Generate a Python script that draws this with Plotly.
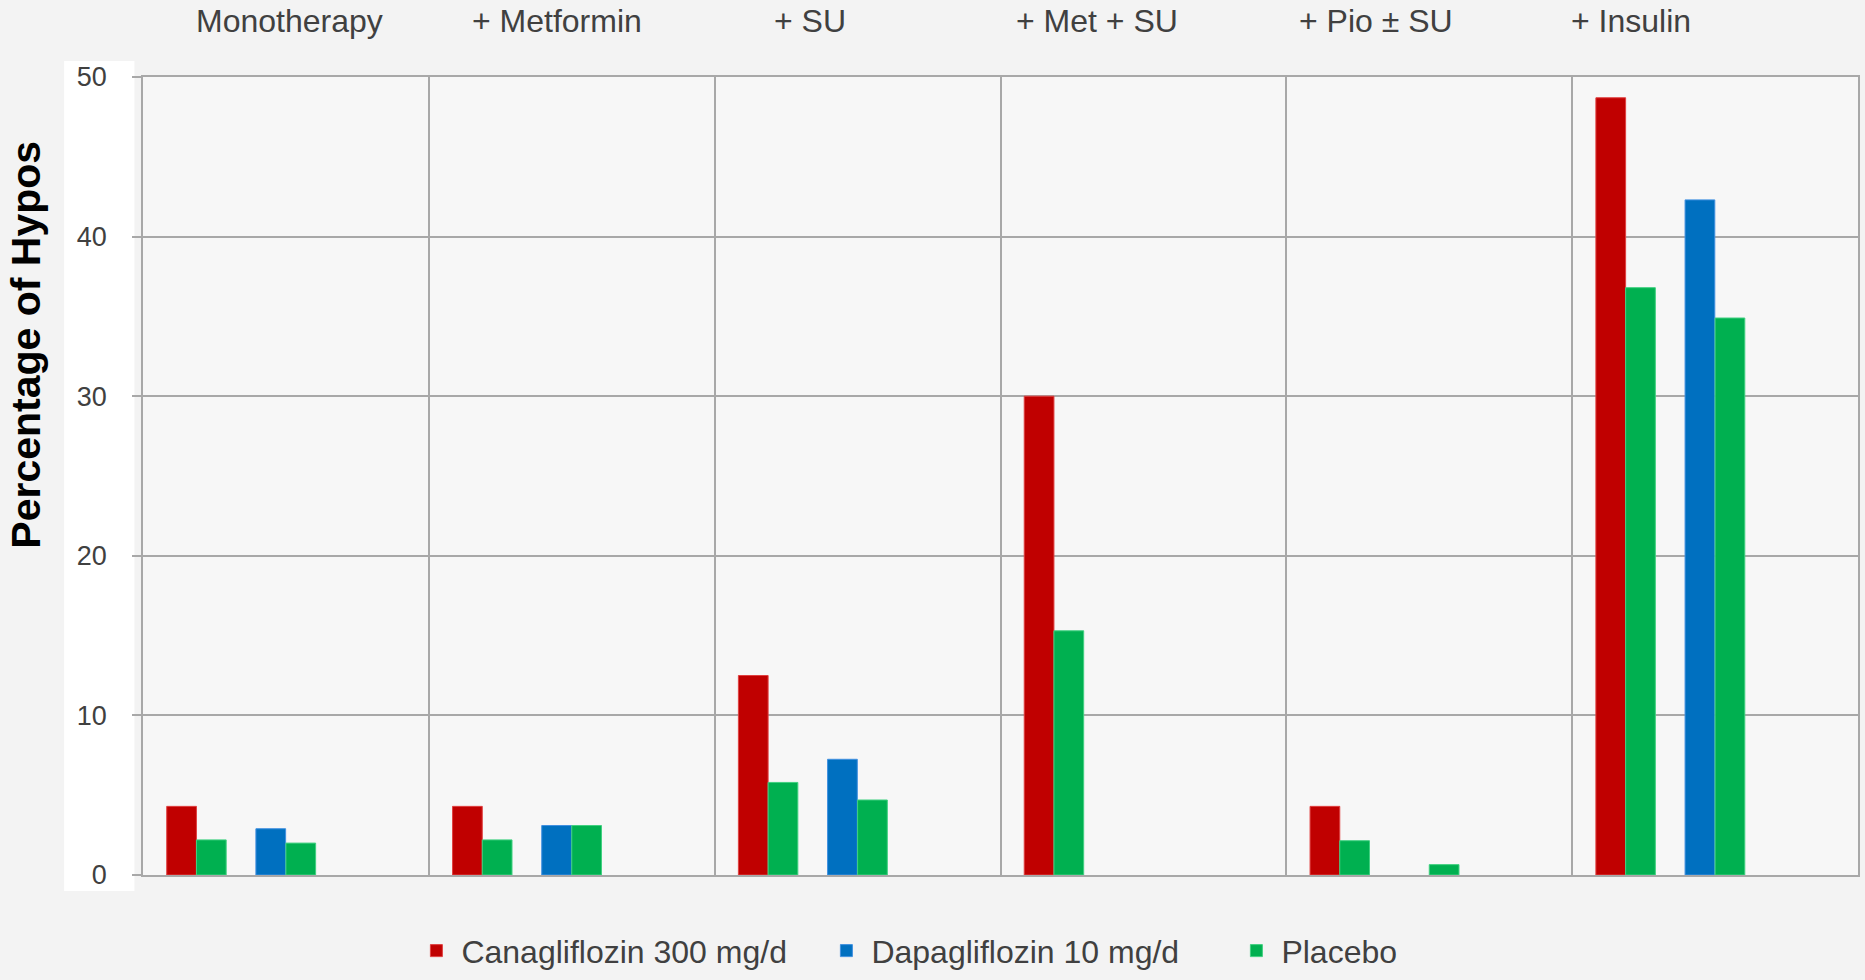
import plotly.graph_objects as go

categories = ["Monotherapy", "+ Metformin", "+ SU", "+ Met + SU", "+ Pio ± SU", "+ Insulin"]
cana = [4.3, 4.3, 12.5, 30.0, 4.3, 48.7]
placebo_cana = [2.2, 2.2, 5.8, 15.3, 2.15, 36.8]
dapa = [2.9, 3.1, 7.25, None, None, 42.3]
placebo_dapa = [2.0, 3.1, 4.7, None, 0.65, 34.9]
y_ticks = [0, 10, 20, 30, 40, 50]
# header label positions (fraction of plot width), as in the original slide
label_pos = [0.0853, 0.2413, 0.3891, 0.5562, 0.7191, 0.8676]

RED = "#C00000"
BLUE = "#0070C0"
GREEN = "#00B050"
W = 0.104

fig = go.Figure()
fig.add_trace(go.Bar(x=categories, y=cana, name="Canagliflozin 300 mg/d", offset=-0.417, width=W,
                     marker=dict(color=RED, line=dict(color="#e04040", width=1)), legendgroup="c"))
fig.add_trace(go.Bar(x=categories, y=placebo_cana, name="Placebo", offset=-0.313, width=W,
                     marker=dict(color=GREEN, line=dict(color="#40d080", width=1)), legendgroup="p",
                     showlegend=False))
fig.add_trace(go.Bar(x=categories, y=dapa, name="Dapagliflozin 10 mg/d", offset=-0.105, width=W,
                     marker=dict(color=BLUE, line=dict(color="#4090e0", width=1)), legendgroup="d"))
fig.add_trace(go.Bar(x=categories, y=placebo_dapa, name="Placebo", offset=0.0, width=W,
                     marker=dict(color=GREEN, line=dict(color="#40d080", width=1)), legendgroup="p"))

annotations = [dict(text="<b>Percentage of Hypos</b>", xref="paper", yref="paper", x=-0.068, y=0.665,
                    xanchor="center", yanchor="middle", textangle=-90, showarrow=False,
                    font=dict(size=41, color="black", family="Liberation Sans, Arial, sans-serif"))]
for name, px in zip(categories, label_pos):
    annotations.append(dict(text=name, xref="paper", yref="paper", x=px, y=1.0, yshift=56,
                            xanchor="center", yanchor="middle", showarrow=False,
                            font=dict(size=32, color="#404040")))

fig.update_layout(
    width=1865, height=980,
    barmode="overlay",
    paper_bgcolor="#f3f3f3",
    plot_bgcolor="#f7f7f7",
    margin=dict(l=143, r=7, t=77, b=105, autoexpand=False),
    font=dict(family="Liberation Sans, Arial, sans-serif", color="#404040"),
    showlegend=True,
    legend=dict(orientation="h", x=0.1565, xanchor="left", y=-0.095, yanchor="middle",
                font=dict(size=32, color="#404040"), bgcolor="rgba(0,0,0,0)",
                traceorder="normal", itemwidth=40, entrywidth=355, entrywidthmode="pixels"),
    shapes=[dict(type="rect", xref="paper", yref="paper", x0=-0.046, x1=-0.005, y0=-0.02, y1=1.02,
                 fillcolor="white", line=dict(width=0), layer="below")],
    annotations=annotations,
)
fig.update_xaxes(
    type="category", side="top", tickson="boundaries", showgrid=True, gridcolor="#a8a8a8", gridwidth=1.5,
    showline=True, linecolor="#a8a8a8", linewidth=1.5, mirror=True, ticks="", showticklabels=False,
)
fig.update_yaxes(
    range=[0, 50], tickvals=y_ticks, showgrid=True, gridcolor="#a8a8a8", gridwidth=1.5,
    showline=True, linecolor="#a8a8a8", linewidth=1.5, mirror=True, zeroline=False,
    ticks="outside", ticklen=9, tickcolor="#a8a8a8", tickwidth=1.5,
    tickfont=dict(size=27, color="#404040"), ticklabelstandoff=20,
)

fig.write_html("out.html")
